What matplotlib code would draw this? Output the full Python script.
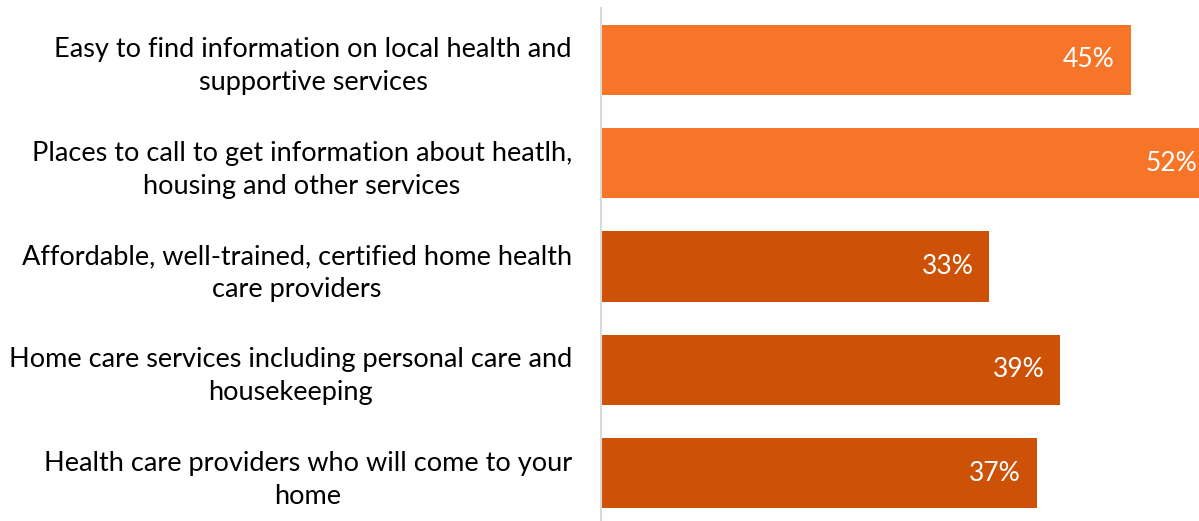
import matplotlib.pyplot as plt

labels = [
    "Easy to find information on local health and\nsupportive services",
    "Places to call to get information about heatlh,\nhousing and other services",
    "Affordable, well-trained, certified home health\ncare providers",
    "Home care services including personal care and\nhousekeeping",
    "Health care providers who will come to your\nhome",
]
values = [45, 52, 33, 39, 37]
colors = ["#F77528", "#F77528", "#CD5207", "#CD5207", "#CD5207"]

plt.rcParams['font.family'] = ['Lato', 'DejaVu Sans']

fig = plt.figure(figsize=(11.99, 5.21), dpi=100)
ax = fig.add_axes([601 / 1199, -4 / 521, 598 / 1199, 517 / 521])

pos = list(range(len(values)))
ax.barh(pos, values, height=0.68, color=colors)

for y, v in zip(pos, values):
    ax.text(v - 1.35, y, f"{v}%", ha='right', va='center', color='white', fontsize=19)

ax.set_xlim(0, 50.8)
ax.set_ylim(4.5, -0.5)
ax.set_yticks(pos)
ax.set_yticklabels(labels, fontsize=19.5, linespacing=1.4)
for t in ax.get_yticklabels():
    t.set_multialignment('center')
ax.tick_params(axis='y', length=0, pad=21)
ax.set_xticks([])

for s in ('top', 'right', 'bottom'):
    ax.spines[s].set_visible(False)
ax.spines['left'].set_color('#D9D9D9')
ax.spines['left'].set_linewidth(1.5)

fig.savefig("out.png", dpi=100)
